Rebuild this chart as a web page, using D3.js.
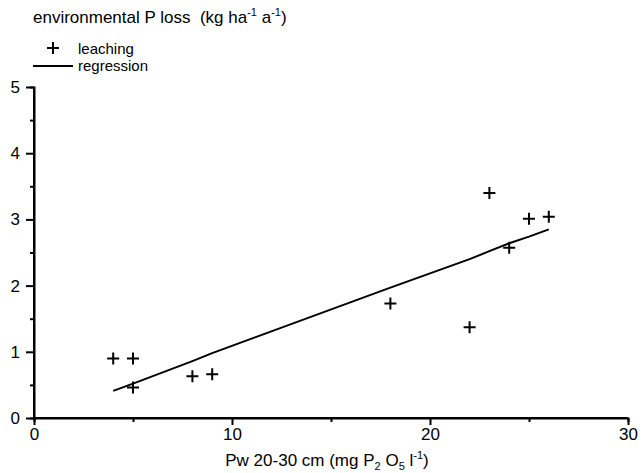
<!DOCTYPE html>
<html>
<head>
<meta charset="utf-8">
<script src="https://cdn.jsdelivr.net/npm/d3@7"></script>
<style>
  body { margin: 0; background: #fff; }
  text { font-family: "Liberation Sans", Arial, sans-serif; fill: #000; }
</style>
</head>
<body>
<svg id="chart" width="642" height="473"></svg>
<script>
// measured points (leaching)
var leachX = [4, 5, 5, 8, 9, 18, 22, 23, 24, 25, 26];
var leachY = [0.9, 0.9, 0.46, 0.63, 0.66, 1.73, 1.37, 3.4, 2.57, 3.01, 3.04];
// regression curve
var regX = [4, 5, 8, 9, 18, 22, 23, 24, 25, 26];
var regY = [0.41, 0.52, 0.86, 0.98, 1.97, 2.40, 2.52, 2.64, 2.74, 2.85];
var xTicks = [0, 10, 20, 30];
var yTicks = [0, 1, 2, 3, 4, 5];

var svg = d3.select("#chart"),
  margin = {left: 34, right: 14, top: 87, bottom: 55},
  width = +svg.attr("width"),
  height = +svg.attr("height");

var x = d3.scaleLinear().domain([0, 30]).range([margin.left, width - margin.right]),
  y = d3.scaleLinear().domain([0, 5]).range([height - margin.bottom, margin.top]);

var fs = "17px", sup = "11px";

// x axis
var gx = svg.append("g").attr("transform", "translate(0," + y(0) + ")");
gx.call(d3.axisBottom(x).tickValues(xTicks).tickSize(7).tickPadding(3).tickFormat(d3.format("d")));
gx.append("g").call(d3.axisBottom(x).tickValues([5, 15, 25]).tickSize(4).tickFormat(""));
// y axis
var gy = svg.append("g").attr("transform", "translate(" + x(0) + ",0)");
gy.call(d3.axisLeft(y).tickValues(yTicks).tickSize(8).tickPadding(6).tickFormat(d3.format("d")));
gy.append("g").call(d3.axisLeft(y).tickValues([0.5, 1.5, 2.5, 3.5, 4.5]).tickSize(4).tickFormat(""));

svg.selectAll(".domain").attr("stroke-width", 2).attr("stroke", "#000");
svg.selectAll(".tick line").attr("stroke-width", 2).attr("stroke", "#000");
svg.selectAll(".tick text").style("font-size", fs).style("font-family", "Liberation Sans, Arial, sans-serif");
gy.select(".domain").attr("d", "M0," + y(5) + "V" + y(0));
gx.select(".domain").attr("d", "M" + x(0) + ",0H" + x(30));

// regression line
var line = d3.line().x(function (d, i) { return x(regX[i]); }).y(function (d) { return y(d); });
svg.append("path").datum(regY)
  .attr("d", line)
  .attr("fill", "none")
  .attr("stroke", "#000")
  .attr("stroke-width", 2);

// plus markers
var plus = "M-6,0H6M0,-6V6";
svg.selectAll(".pt").data(leachY).enter().append("path")
  .attr("class", "pt")
  .attr("transform", function (d, i) { return "translate(" + x(leachX[i]) + "," + y(d) + ")"; })
  .attr("d", plus)
  .attr("stroke", "#000")
  .attr("stroke-width", 2);

// title
var t = svg.append("text").attr("x", 33).attr("y", 23).style("font-size", fs).attr("xml:space", "preserve");
t.append("tspan").text("environmental P loss  (kg ha");
t.append("tspan").attr("dy", -7).style("font-size", sup).text("-1");
t.append("tspan").attr("dy", 7).text(" a");
t.append("tspan").attr("dy", -7).style("font-size", sup).text("-1");
t.append("tspan").attr("dy", 7).text(")");

// legend
svg.append("path").attr("transform", "translate(53,48)").attr("d", plus)
  .attr("stroke", "#000").attr("stroke-width", 2);
svg.append("line").attr("x1", 33).attr("x2", 73).attr("y1", 66).attr("y2", 66)
  .attr("stroke", "#000").attr("stroke-width", 2);
svg.append("text").attr("x", 78).attr("y", 54).style("font-size", "15px").text("leaching");
svg.append("text").attr("x", 78).attr("y", 71).style("font-size", "15px").text("regression");

// x label
var xl = svg.append("text").attr("x", 327).attr("y", 466).attr("text-anchor", "middle").style("font-size", fs);
xl.append("tspan").text("Pw 20-30 cm (mg P");
xl.append("tspan").attr("dy", 4).style("font-size", sup).text("2");
xl.append("tspan").attr("dy", -4).text(" O");
xl.append("tspan").attr("dy", 4).style("font-size", sup).text("5");
xl.append("tspan").attr("dy", -4).text(" l");
xl.append("tspan").attr("dy", -7).style("font-size", sup).text("-1");
xl.append("tspan").attr("dy", 7).text(")");
</script>
</body>
</html>
